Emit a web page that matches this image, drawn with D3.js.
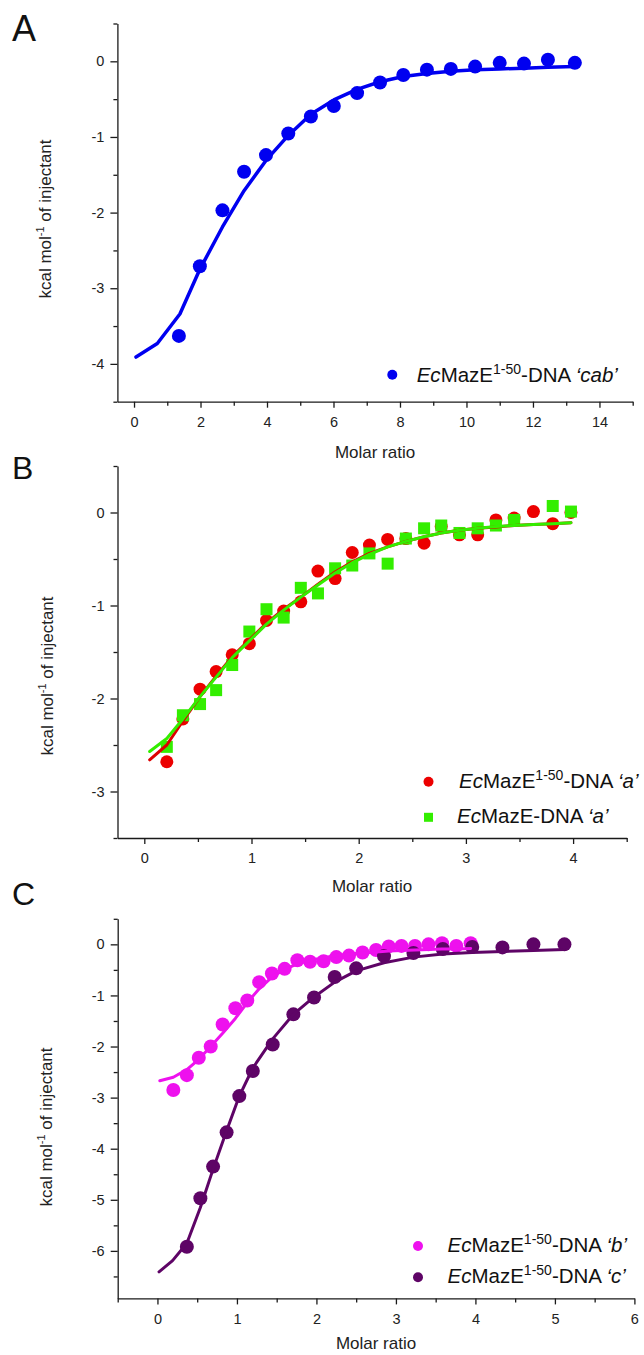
<!DOCTYPE html>
<html>
<head>
<meta charset="utf-8">
<script src="https://cdnjs.cloudflare.com/ajax/libs/d3/7.8.5/d3.min.js"></script>
<style>
body { margin: 0; background: #fff; }
svg { display: block; }
</style>
</head>
<body>
<div id="T"></div>
<script>
// Panel A: EcMazE1-50 - DNA 'cab'
const aX = [1.35,1.98,2.66,3.31,3.97,4.64,5.32,6.01,6.71,7.40,8.10,8.81,9.53,10.26,11.00,11.73,12.45,13.26];
const aY = [-3.63,-2.71,-1.97,-1.46,-1.24,-0.955,-0.73,-0.59,-0.42,-0.28,-0.18,-0.11,-0.10,-0.07,-0.02,-0.03,0.02,-0.02];
const aFitX = [0.06,0.70,1.38,1.98,2.66,3.31,3.97,4.64,5.32,6.01,6.71,7.40,8.10,8.81,9.53,10.26,11.00,11.73,12.45,13.26];
const aFitY = [-3.91,-3.73,-3.34,-2.75,-2.19,-1.71,-1.31,-0.98,-0.70,-0.51,-0.37,-0.27,-0.20,-0.16,-0.13,-0.11,-0.10,-0.09,-0.08,-0.07];

// Panel B: EcMazE1-50 (red) and EcMazE (green) with DNA 'a'
const bRedX = [0.21,0.36,0.52,0.67,0.82,0.98,1.14,1.30,1.46,1.62,1.78,1.94,2.10,2.27,2.44,2.61,2.77,2.94,3.11,3.28,3.45,3.63,3.81,3.98];
const bRedY = [-2.68,-2.22,-1.90,-1.71,-1.53,-1.41,-1.16,-1.06,-0.96,-0.63,-0.71,-0.43,-0.35,-0.29,-0.28,-0.33,-0.15,-0.24,-0.24,-0.08,-0.06,0.01,-0.12,0.00];
const bGreenX = [0.21,0.36,0.52,0.67,0.82,0.98,1.14,1.30,1.46,1.62,1.78,1.94,2.10,2.27,2.44,2.61,2.77,2.94,3.11,3.28,3.45,3.81,3.98];
const bGreenY = [-2.52,-2.18,-2.06,-1.91,-1.64,-1.28,-1.04,-1.13,-0.81,-0.87,-0.60,-0.57,-0.44,-0.55,-0.28,-0.17,-0.14,-0.22,-0.17,-0.14,-0.08,0.07,0.01];
const bFitX = [0.05,0.21,0.36,0.52,0.67,0.82,0.98,1.14,1.30,1.46,1.62,1.78,1.94,2.10,2.27,2.44,2.61,2.77,2.94,3.11,3.28,3.45,3.63,3.81,3.98];
const bRedFitY = [-2.66,-2.50,-2.24,-1.98,-1.76,-1.55,-1.37,-1.19,-1.04,-0.91,-0.77,-0.64,-0.53,-0.44,-0.37,-0.31,-0.26,-0.22,-0.19,-0.17,-0.155,-0.14,-0.13,-0.12,-0.11];
const bGreenFitY = [-2.57,-2.43,-2.22,-1.98,-1.77,-1.56,-1.38,-1.20,-1.05,-0.91,-0.78,-0.65,-0.54,-0.45,-0.37,-0.31,-0.26,-0.22,-0.19,-0.17,-0.15,-0.14,-0.13,-0.12,-0.11];

// Panel C: EcMazE1-50 with DNA 'b' (magenta) and 'c' (purple)
const cMagX = [0.20,0.37,0.52,0.67,0.82,0.98,1.13,1.28,1.44,1.60,1.76,1.92,2.09,2.25,2.41,2.58,2.75,2.91,3.07,3.24,3.41,3.58,3.76,3.94];
const cMagY = [-2.85,-2.56,-2.22,-2.00,-1.57,-1.25,-1.10,-0.74,-0.57,-0.48,-0.31,-0.34,-0.33,-0.25,-0.22,-0.16,-0.11,-0.04,-0.03,-0.03,0.00,0.02,-0.03,0.02];
const cMagFitX = [0.03,0.20,0.37,0.52,0.67,0.82,0.98,1.13,1.28,1.44,1.60,1.76,1.92,2.09,2.25,2.41,2.58,2.75,2.91,3.07,3.24,3.41,3.58,3.76,3.94];
const cMagFitY = [-2.67,-2.60,-2.45,-2.25,-2.00,-1.74,-1.45,-1.14,-0.87,-0.64,-0.49,-0.38,-0.31,-0.26,-0.22,-0.19,-0.17,-0.15,-0.13,-0.12,-0.11,-0.10,-0.09,-0.09,-0.08];
const cPurX = [0.37,0.54,0.70,0.87,1.03,1.20,1.45,1.71,1.97,2.23,2.50,2.85,3.22,3.59,3.96,4.34,4.73,5.12];
const cPurY = [-5.92,-4.97,-4.35,-3.68,-2.97,-2.48,-1.96,-1.37,-1.04,-0.64,-0.47,-0.23,-0.17,-0.09,-0.05,-0.06,0.00,0.00];
const cPurFitX = [0.02,0.19,0.37,0.54,0.70,0.87,1.03,1.20,1.45,1.71,1.97,2.23,2.50,2.85,3.22,3.59,3.96,4.34,4.73,5.12];
const cPurFitY = [-6.41,-6.19,-5.85,-5.15,-4.40,-3.65,-2.97,-2.42,-1.85,-1.37,-1.03,-0.74,-0.52,-0.36,-0.25,-0.19,-0.16,-0.14,-0.12,-0.10];

// ticks
const aXMajor = [0,2,4,6,8,10,12,14], aXMinor = [1,3,5,7,9,11,13,15];
const aYMajor = [-4,-3,-2,-1,0], aYMinor = [-4.5,-3.5,-2.5,-1.5,-0.5,0.5];
const bXMajor = [0,1,2,3,4], bXMinor = [0.5,1.5,2.5,3.5,4.5];
const bYMajor = [-3,-2,-1,0], bYMinor = [-3.5,-2.5,-1.5,-0.5,0.5];
const cXMajor = [0,1,2,3,4,5,6], cXMinor = [-0.5,0.5,1.5,2.5,3.5,4.5,5.5];
const cYMajor = [-6,-5,-4,-3,-2,-1,0], cYMinor = [-6.5,-5.5,-4.5,-3.5,-2.5,-1.5,-0.5,0.5];

const FONT = '"Liberation Sans", Arial, sans-serif';
const svg = d3.select('#T').append('svg')
    .attr('width', 644).attr('height', 1355)
    .style('font-family', FONT);

function zip(xs, ys) { return xs.map((d, i) => [d, ys[i]]); }

function panel(p) {
    const x = d3.scaleLinear().domain(p.xDom).range(p.xRange);
    const y = d3.scaleLinear().domain(p.yDom).range(p.yRange);
    const bottom = p.yRange[0], left = p.xRange[0];
    const g = svg.append('g').style('color', '#1a1a1a');

    g.append('g').attr('transform', `translate(0,${bottom})`)
        .call(d3.axisBottom(x).tickValues(p.xMajor).tickSize(6).tickSizeOuter(0).tickPadding(9).tickFormat(d => String(d)));
    g.append('g').attr('transform', `translate(0,${bottom})`)
        .call(d3.axisBottom(x).tickValues(p.xMinor).tickSize(4).tickFormat(''))
        .select('.domain').remove();
    g.append('g').attr('transform', `translate(${left},0)`)
        .call(d3.axisLeft(y).tickValues(p.yMajor).tickSize(7).tickSizeOuter(0).tickPadding(6).tickFormat(d => String(d)));
    g.append('g').attr('transform', `translate(${left},0)`)
        .call(d3.axisLeft(y).tickValues(p.yMinor).tickSize(4).tickFormat(''))
        .select('.domain').remove();
    g.selectAll('g').attr('font-family', null).attr('font-size', 14.5);
    g.selectAll('path, line').attr('stroke-width', 1.3);
    g.selectAll('text').attr('fill', '#222');

    // axis titles
    g.append('text')
        .attr('x', (p.xRange[0] + p.xRange[1]) / 2).attr('y', bottom + p.xTitleDy)
        .attr('text-anchor', 'middle').attr('font-size', 17).attr('fill', '#222')
        .text('Molar ratio');
    const yt = g.append('text')
        .attr('transform', `translate(${p.yTitleX},${p.yTitleY}) rotate(-90)`)
        .attr('text-anchor', 'middle').attr('font-size', 17).attr('fill', '#222');
    yt.append('tspan').text('kcal mol');
    yt.append('tspan').attr('font-size', 11).attr('dy', -7).text('-1');
    yt.append('tspan').attr('dy', 7).text(' of injectant');

    // panel letter
    svg.append('text').attr('x', 12).attr('y', p.letterY)
        .attr('font-size', p.letterSize).attr('fill', '#111').text(p.letter);

    const line = d3.line().x(d => x(d[0])).y(d => y(d[1]));
    p.series.forEach(s => {
        const pts = zip(s.x, s.y);
        if (s.shape === 'square') {
            g.append('g').selectAll('rect').data(pts).join('rect')
                .attr('x', d => x(d[0]) - s.size / 2).attr('y', d => y(d[1]) - s.size / 2)
                .attr('width', s.size).attr('height', s.size).attr('fill', s.color);
        } else {
            g.append('g').selectAll('circle').data(pts).join('circle')
                .attr('cx', d => x(d[0])).attr('cy', d => y(d[1]))
                .attr('r', s.size / 2).attr('fill', s.color);
        }
    });
    p.fits.forEach(f => {
        g.append('path').datum(zip(f.x, f.y))
            .attr('d', line).attr('fill', 'none')
            .attr('stroke', f.color).attr('stroke-width', f.width)
            .attr('stroke-linejoin', 'round').attr('stroke-linecap', 'round');
    });

    // legend
    p.legend.forEach(l => {
        if (l.shape === 'square') {
            g.append('rect').attr('x', l.mx - 4.5).attr('y', l.my - 4.5)
                .attr('width', 9).attr('height', 9).attr('fill', l.color);
        } else {
            g.append('circle').attr('cx', l.mx).attr('cy', l.my).attr('r', 5).attr('fill', l.color);
        }
        const t = g.append('text').attr('x', l.tx).attr('y', l.ty)
            .attr('font-size', 20.5).attr('fill', '#111');
        t.append('tspan').attr('font-style', 'italic').text('Ec');
        t.append('tspan').text('MazE');
        if (l.sup) {
            t.append('tspan').attr('font-size', 14).attr('dy', -8).text(l.sup);
            t.append('tspan').attr('dy', 8).text('-DNA ');
        } else {
            t.append('tspan').text('-DNA ');
        }
        t.append('tspan').attr('font-style', 'italic').text('\u2018' + l.dna + '\u2019');
    });
}

panel({
    letter: 'A', letterY: 40.5, letterSize: 36,
    xDom: [-0.5, 15], xRange: [117.4, 632.7],
    yDom: [-4.5, 0.5], yRange: [401.7, 23.5],
    xMajor: aXMajor, xMinor: aXMinor, yMajor: aYMajor, yMinor: aYMinor,
    xTitleDy: 56, yTitleX: 51, yTitleY: 219,
    series: [{ x: aX, y: aY, color: '#0000f0', size: 14 }],
    fits: [{ x: aFitX, y: aFitY, color: '#0000f0', width: 3.5 }],
    legend: [{ mx: 392.3, my: 374.7, tx: 416.7, ty: 381.5, color: '#0000f0', sup: '1-50', dna: 'cab' }]
});

panel({
    letter: 'B', letterY: 479, letterSize: 32,
    xDom: [-0.25, 4.5], xRange: [117.5, 626.7],
    yDom: [-3.5, 0.5], yRange: [838, 466],
    xMajor: bXMajor, xMinor: bXMinor, yMajor: bYMajor, yMinor: bYMinor,
    xTitleDy: 54, yTitleX: 53, yTitleY: 676,
    series: [
        { x: bRedX, y: bRedY, color: '#ec0000', size: 13 },
        { x: bGreenX, y: bGreenY, color: '#33ee00', size: 12, shape: 'square' }
    ],
    fits: [
        { x: bFitX, y: bRedFitY, color: '#dd0000', width: 3 },
        { x: bFitX, y: bGreenFitY, color: '#33ee00', width: 3 }
    ],
    legend: [
        { mx: 428.5, my: 781.7, tx: 459, ty: 788.3, color: '#ec0000', sup: '1-50', dna: 'a' },
        { mx: 428.5, my: 817.3, tx: 457, ty: 823.3, color: '#33ee00', dna: 'a', shape: 'square' }
    ]
});

panel({
    letter: 'C', letterY: 905, letterSize: 32,
    xDom: [-0.5, 6], xRange: [117.7, 634.4],
    yDom: [-6.93, 0.5], yRange: [1298.4, 918.8],
    xMajor: cXMajor, xMinor: cXMinor, yMajor: cYMajor, yMinor: cYMinor,
    xTitleDy: 51, yTitleX: 52, yTitleY: 1127,
    series: [
        { x: cMagX, y: cMagY, color: '#ee11ee', size: 14 },
        { x: cPurX, y: cPurY, color: '#5e0466', size: 14 }
    ],
    fits: [
        { x: cMagFitX, y: cMagFitY, color: '#ee11ee', width: 3 },
        { x: cPurFitX, y: cPurFitY, color: '#5e0466', width: 3 }
    ],
    legend: [
        { mx: 418, my: 1246, tx: 447.5, ty: 1251.5, color: '#ee11ee', sup: '1-50', dna: 'b' },
        { mx: 418, my: 1277.3, tx: 447.5, ty: 1283.3, color: '#5e0466', sup: '1-50', dna: 'c' }
    ]
});
</script>
</body>
</html>
